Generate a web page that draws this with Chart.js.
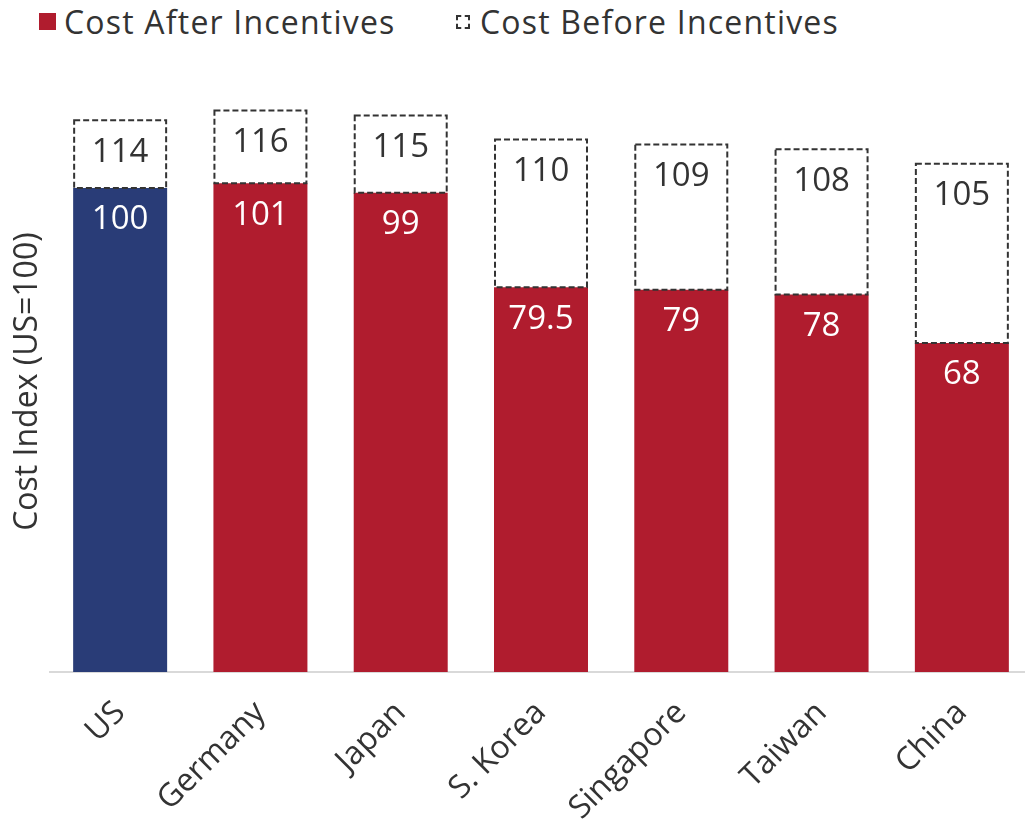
<!DOCTYPE html>
<html lang="en">
<head>
    <meta charset="UTF-8">
    <title>Cost Index After and Before Incentives</title>
    <style>
        body { margin: 0; padding: 0; overflow: hidden; background: #fff; font-family: 'Open Sans', sans-serif; }
        .wrap { position: relative; width: 1025px; height: 824px; overflow: hidden; }
        #costChart { position: absolute; left: 0; top: 0; }
        .legend-item { position: absolute; top: 0; font-size: 32px; line-height: 44px; color: #333; white-space: nowrap; letter-spacing: 1.2px; }
        .legend-item .swatch { position: absolute; top: 13px; width: 17px; height: 17px; box-sizing: border-box; }
        .legend-item .solid { background: #b01c2e; }
        .legend-item .dashed { width: 14px; height: 14px; top: 15px; border: 2px dashed #333; }
        .legend-item span { position: absolute; white-space: nowrap; }
    </style>
</head>
<body>
    <div class="wrap">
        <div class="legend-item" style="left:39px"><i class="swatch solid"></i><span style="left:25px">Cost After Incentives</span></div>
        <div class="legend-item" style="left:456px"><i class="swatch dashed"></i><span style="left:24px">Cost Before Incentives</span></div>
        <canvas id="costChart" width="1032" height="824"></canvas>
    </div>

    <script src="https://cdn.jsdelivr.net/npm/chart.js"></script>
    <script>
        const categories = ['US', 'Germany', 'Japan', 'S. Korea', 'Singapore', 'Taiwan', 'China'];
        const costAfter = [100, 101, 99, 79.5, 79, 78, 68];
        const costBefore = [114, 116, 115, 110, 109, 108, 105];

        const BLUE = '#293c77';
        const RED = '#b01c2e';
        const TEXT = '#333333';
        const FONT = "'Open Sans', sans-serif";

        // dashed outline + value labels drawn over the bars
        const barDecorations = {
            id: 'barDecorations',
            afterDatasetsDraw(chart) {
                const ctx = chart.ctx;
                const solid = chart.getDatasetMeta(0).data;
                const outline = chart.getDatasetMeta(1).data;

                ctx.save();
                ctx.strokeStyle = TEXT;
                ctx.lineWidth = 2;
                ctx.setLineDash([6, 3]);
                outline.forEach(el => {
                    const left = el.x - el.width / 2;
                    ctx.strokeRect(left + 1, el.y, el.width - 2, el.base - el.y);
                });
                ctx.restore();

                ctx.save();
                ctx.font = '33px ' + FONT;
                ctx.textAlign = 'center';
                ctx.textBaseline = 'middle';
                solid.forEach((el, i) => {
                    ctx.fillStyle = '#ffffff';
                    ctx.fillText(String(costAfter[i]), el.x, el.y + 32);
                });
                outline.forEach((el, i) => {
                    ctx.fillStyle = TEXT;
                    ctx.fillText(String(costBefore[i]), el.x, el.y + 32);
                });
                ctx.restore();
            }
        };

        new Chart(document.getElementById('costChart'), {
            type: 'bar',
            data: {
                labels: categories,
                datasets: [
                    {
                        label: 'Cost After Incentives',
                        data: costAfter,
                        backgroundColor: categories.map(c => c === 'US' ? BLUE : RED),
                        borderWidth: 0,
                        grouped: false,
                        order: 1
                    },
                    {
                        label: 'Cost Before Incentives',
                        data: costBefore.map((v, i) => [costAfter[i], v]),
                        backgroundColor: 'rgba(0,0,0,0)',
                        borderWidth: 0,
                        grouped: false,
                        order: 0
                    }
                ]
            },
            options: {
                responsive: false,
                animation: false,
                barPercentage: 0.67,
                categoryPercentage: 1,
                layout: { padding: { top: 91.2, left: 0, right: 0, bottom: 0 } },
                plugins: {
                    legend: { display: false },
                    tooltip: { enabled: false }
                },
                scales: {
                    x: {
                        grid: { display: false },
                        border: { display: true, color: '#d9d9d9', width: 2 },
                        ticks: {
                            color: TEXT,
                            font: { family: FONT, size: 32 },
                            minRotation: 45,
                            maxRotation: 45,
                            padding: 14
                        },
                        afterFit(scale) { scale.height = 152; }
                    },
                    y: {
                        min: 0,
                        max: 120,
                        grid: { display: false },
                        border: { display: false },
                        ticks: { display: false },
                        title: {
                            display: true,
                            text: 'Cost Index (US=100)',
                            color: TEXT,
                            font: { family: FONT, size: 32 },
                            padding: { top: 9, bottom: 0 }
                        },
                        afterFit(scale) { scale.width = 50; }
                    }
                }
            },
            plugins: [barDecorations]
        });
    </script>
</body>
</html>
